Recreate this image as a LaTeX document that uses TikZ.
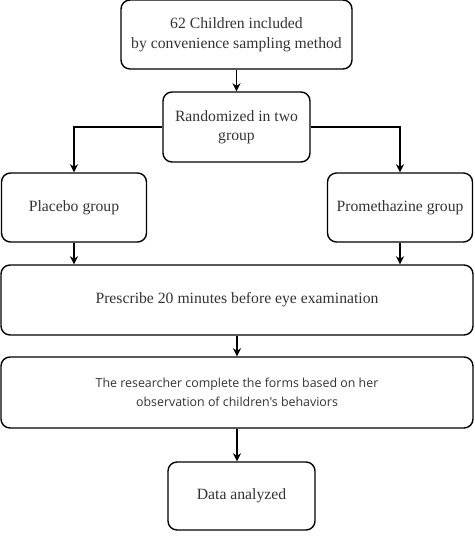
\documentclass[tikz,border=0pt]{standalone}
\usepackage{fontspec}
\setmainfont{Liberation Serif}
\newfontfamily\formfont{Open Sans}
\usetikzlibrary{arrows.meta}
\begin{document}
\begin{tikzpicture}[x=1pt,y=-1pt]
\tikzstyle{stepbox}=[draw=black,line width=1.4pt,rounded corners=9pt,align=center,text=black!80,inner sep=0pt,font=\fontsize{15.7}{19.5}\selectfont]
\tikzstyle{link}=[line width=1.6pt,-{Stealth[length=8pt,width=8pt,inset=2.5pt]}]
\useasboundingbox (0,0) rectangle (474,540);
\node[stepbox,minimum width=231pt,minimum height=69pt] (incl) at (236.5,34.5) {62 Children included\\by convenience sampling method};
\node[stepbox,minimum width=147pt,minimum height=70pt] (rand) at (236.5,127) {Randomized in two\\group};
\node[stepbox,minimum width=145pt,minimum height=69pt] (plac) at (74,207.5) {Placebo group};
\node[stepbox,minimum width=145pt,minimum height=69pt] (prom) at (400,207.5) {Promethazine group};
\node[stepbox,minimum width=472pt,minimum height=70pt] (presc) at (237,300) {Prescribe 20 minutes before eye examination};
\node[stepbox,minimum width=472pt,minimum height=71pt,font={\formfont\fontsize{12.4}{19}\selectfont}] (resr) at (237,392.5) {The researcher complete the forms based on her\\observation of children's behaviors};
\node[stepbox,minimum width=147pt,minimum height=68pt] (data) at (241.5,496) {Data analyzed};
\draw[link] (incl.south) -- (rand.north);
\draw[link] (rand.west) -| (plac.north);
\draw[link] (rand.east) -| (prom.north);
\draw[link] (plac.south) -- (plac.south |- presc.north);
\draw[link] (prom.south) -- (prom.south |- presc.north);
\draw[link] (presc.south) -- (presc.south |- resr.north);
\draw[link] (resr.south) -- (resr.south |- data.north);
\end{tikzpicture}
\end{document}
